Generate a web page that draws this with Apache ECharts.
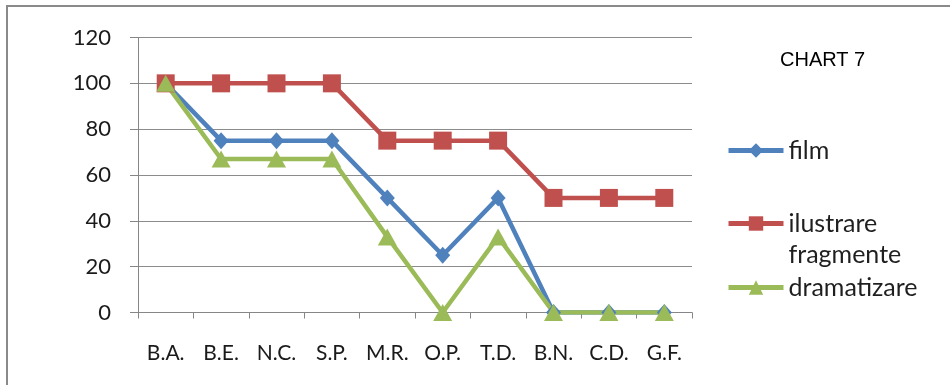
<!DOCTYPE html>
<html><head><meta charset="utf-8">
<script src="https://cdn.jsdelivr.net/npm/echarts@6/dist/echarts.min.js"></script>
<style>html,body{margin:0;padding:0;background:#fff}#c{width:950px;height:385px}</style>
</head><body><div id="c"></div><script>
const categories = ['B.A.','B.E.','N.C.','S.P.','M.R.','O.P.','T.D.','B.N.','C.D.','G.F.'];
const filmValues = [100,75,75,75,50,25,50,0,0,0];
const ilustrareValues = [100,100,100,100,75,75,75,50,50,50];
const dramatizareValues = [100,67,67,67,33,0,33,0,0,0];
const yMin = 0, yMax = 120, yStep = 20;
const seriesNames = ['film','ilustrare fragmente','dramatizare'];
const titleText = 'CHART 7';

const colors = ['#4F81BD','#C0504D','#9BBB59'];
const font = 'Lato, Calibri, sans-serif';
const chart = echarts.init(document.getElementById('c'), null, {renderer:'canvas'});
const legendText = {fontFamily:font, fontSize:25, color:'#1f1f1f'};
const legendBase = {
  orient:'vertical', left:721, itemWidth:55, itemHeight:18, itemGap:0,
  lineStyle:{width:5},
  textStyle:legendText
};
chart.setOption({
  animation:false,
  backgroundColor:'#fff',
  title:{text:titleText, left:775, top:45, textStyle:{fontFamily:'Liberation Sans, Arial', fontSize:20, fontWeight:'normal', color:'#000'}},
  graphic:[{type:'rect', shape:{x:7,y:6,width:1000,height:500}, style:{fill:'none', stroke:'#8a8a8a', lineWidth:2}, silent:true}],
  legend:[
    Object.assign({}, legendBase, {data:[seriesNames[0]], top:133}),
    Object.assign({}, legendBase, {data:[seriesNames[1]], top:172,
      formatter: n => '\nilustrare\nfragmente',
      textStyle:Object.assign({}, legendText, {lineHeight:31})}),
    Object.assign({}, legendBase, {data:[seriesNames[2]], top:270})
  ],
  grid:{left:138, right:258, top:37.5, bottom:72.5},
  xAxis:{type:'category', data:categories, boundaryGap:true,
    axisLine:{lineStyle:{color:'#868686', width:1}},
    axisTick:{show:true, interval:0, length:6, lineStyle:{color:'#868686'}},
    axisLabel:{interval:0, margin:30, fontFamily:font, fontSize:21, color:'#1a1a1a'}},
  yAxis:{type:'value', min:yMin, max:yMax, interval:yStep,
    axisLine:{show:true, lineStyle:{color:'#868686', width:1}},
    axisTick:{show:true, length:8, lineStyle:{color:'#868686'}},
    axisLabel:{margin:27, fontFamily:font, fontSize:22, color:'#1a1a1a'},
    splitLine:{lineStyle:{color:'#8c8c8c', width:1}}},
  series:[
    {name:seriesNames[0], type:'line', data:filmValues, symbol:'diamond', symbolSize:[15,17],
     lineStyle:{width:4.5,color:colors[0]}, itemStyle:{color:colors[0]}},
    {name:seriesNames[1], type:'line', data:ilustrareValues, symbol:'rect', symbolSize:18,
     lineStyle:{width:4.5,color:colors[1]}, itemStyle:{color:colors[1]}},
    {name:seriesNames[2], type:'line', data:dramatizareValues, symbol:'triangle', symbolSize:[19,17],
     lineStyle:{width:4.5,color:colors[2]}, itemStyle:{color:colors[2]}}
  ]
});
</script></body></html>
